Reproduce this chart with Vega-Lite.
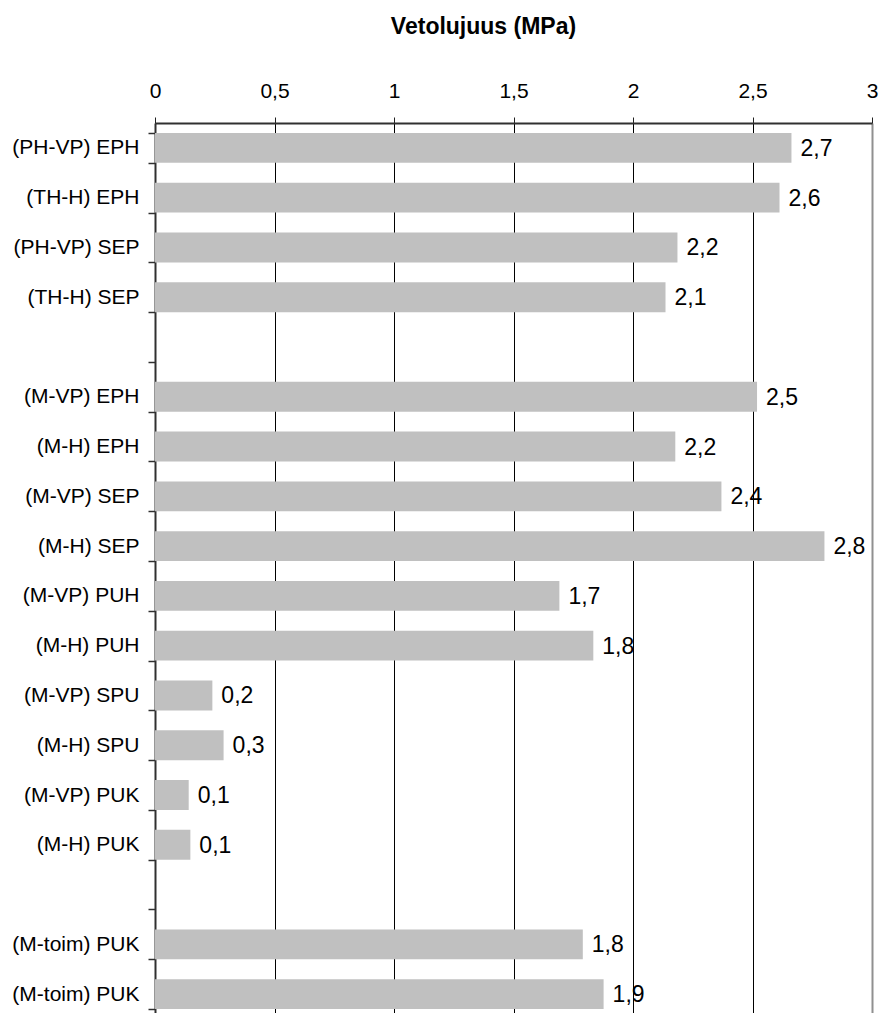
{
  "$schema": "https://vega.github.io/schema/vega-lite/v6.json",
  "autosize": "none",
  "padding": {"left": 155, "top": 123, "right": 9, "bottom": 0},
  "width": 717,
  "height": 896,
  "config": {
    "font": "Liberation Sans",
    "view": {"stroke": null},
    "locale": {
      "number": {"decimal": ",", "thousands": "\u00a0", "grouping": [3], "currency": ["", "\u00a0€"]}
    }
  },
  "data": {
    "values": [
      {"sample": "(PH-VP) EPH", "strength": 2.663},
      {"sample": "(TH-H) EPH", "strength": 2.613},
      {"sample": "(PH-VP) SEP", "strength": 2.186},
      {"sample": "(TH-H) SEP", "strength": 2.136},
      {"sample": "(M-VP) EPH", "strength": 2.519},
      {"sample": "(M-H) EPH", "strength": 2.177},
      {"sample": "(M-VP) SEP", "strength": 2.37},
      {"sample": "(M-H) SEP", "strength": 2.801},
      {"sample": "(M-VP) PUH", "strength": 1.692},
      {"sample": "(M-H) PUH", "strength": 1.834},
      {"sample": "(M-VP) SPU", "strength": 0.24},
      {"sample": "(M-H) SPU", "strength": 0.287},
      {"sample": "(M-VP) PUK", "strength": 0.141},
      {"sample": "(M-H) PUK", "strength": 0.148},
      {"sample": "(M-toim) PUK", "strength": 1.79},
      {"sample": "(M-toim) PUK (2)", "strength": 1.877}
    ]
  },
  "encoding": {
    "y": {
      "field": "sample",
      "type": "nominal",
      "scale": {
        "domain": [
          "(PH-VP) EPH", "(TH-H) EPH", "(PH-VP) SEP", "(TH-H) SEP", "gap A",
          "(M-VP) EPH", "(M-H) EPH", "(M-VP) SEP", "(M-H) SEP",
          "(M-VP) PUH", "(M-H) PUH", "(M-VP) SPU", "(M-H) SPU",
          "(M-VP) PUK", "(M-H) PUK", "gap B",
          "(M-toim) PUK", "(M-toim) PUK (2)"
        ],
        "paddingInner": 0.4,
        "paddingOuter": 0.2
      },
      "axis": {
        "title": null,
        "orient": "left",
        "tickBand": "extent",
        "labelExpr": "slice(datum.label, 0, 3) == 'gap' ? '' : replace(datum.label, ' (2)', '')",
        "labelFont": "Liberation Sans",
        "labelFontSize": 21,
        "labelColor": "#000000",
        "labelPadding": 9,
        "tickSize": 7,
        "tickColor": "#303030",
        "tickWidth": 1.5,
        "domainColor": "#303030",
        "domainWidth": 2,
        "grid": false
      }
    },
    "x": {
      "field": "strength",
      "type": "quantitative",
      "scale": {"domain": [0, 3], "nice": false, "zero": true},
      "axis": {
        "orient": "top",
        "values": [0, 0.5, 1, 1.5, 2, 2.5, 3],
        "format": "~g",
        "labelFlush": false,
        "labelOverlap": false,
        "labelFont": "Liberation Sans",
        "labelFontSize": 21,
        "labelColor": "#000000",
        "labelBaseline": "alphabetic",
        "labelPadding": 20,
        "tickSize": 6,
        "tickColor": "#202020",
        "domainColor": "#303030",
        "domainWidth": 2,
        "grid": true,
        "gridColor": {"condition": {"test": "datum.value === 3", "value": "#909090"}, "value": "#000000"},
        "gridWidth": {"condition": {"test": "datum.value === 3", "value": 2}, "value": 1},
        "gridOpacity": 1,
        "title": "Vetolujuus (MPa)",
        "titleFont": "Liberation Sans",
        "titleFontSize": 23,
        "titleFontWeight": "bold",
        "titleColor": "#000000",
        "titleAlign": "center",
        "titleBaseline": "alphabetic",
        "titleX": 328,
        "titleY": -90
      }
    }
  },
  "layer": [
    {
      "mark": {"type": "bar", "color": "#c0c0c0"}
    },
    {
      "mark": {"type": "text", "align": "left", "baseline": "middle", "dx": 9, "dy": 1, "font": "Liberation Sans", "fontSize": 23, "color": "#000000"},
      "encoding": {
        "text": {"field": "strength", "type": "quantitative", "format": ".1f"}
      }
    }
  ]
}
